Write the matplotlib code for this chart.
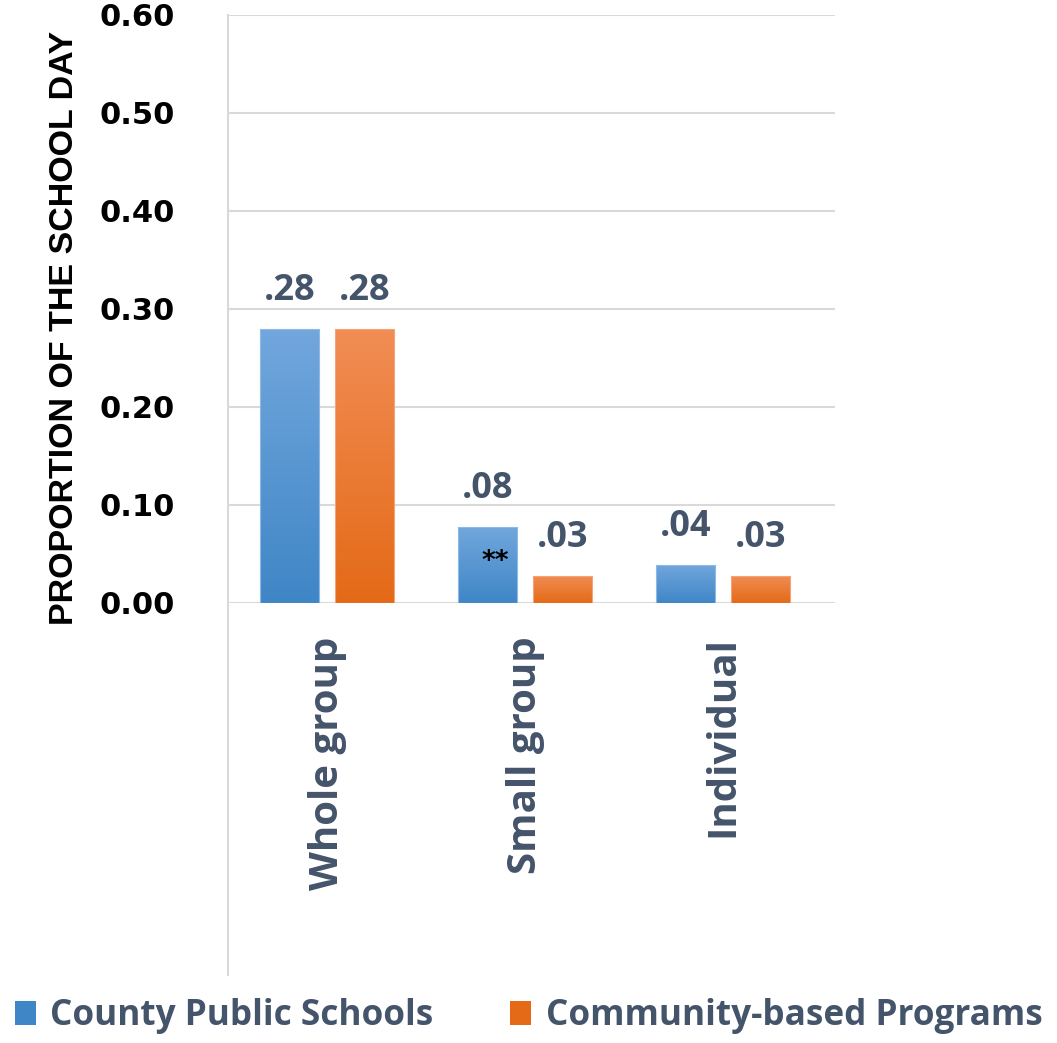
import numpy as np
import matplotlib
matplotlib.use("Agg")
import matplotlib.pyplot as plt
from matplotlib.colors import LinearSegmentedColormap
from matplotlib.patches import Patch

# Datos del gráfico
categories = ["Whole group", "Small group", "Individual"]
series_names = ["County Public Schools", "Community-based Programs"]
county_values = [0.28, 0.078, 0.039]
community_values = [0.28, 0.028, 0.028]
y_ticks = [0.0, 0.1, 0.2, 0.3, 0.4, 0.5, 0.6]

SLATE = "#44546A"
GRID = "#D9D9D9"
BLUE_TOP, BLUE_BOTTOM = "#72A7DD", "#3F86C6"
ORANGE_TOP, ORANGE_BOTTOM = "#F18D55", "#E46A17"


# Rellena una barra con un degradado vertical.
def gradient_bar(ax, bar, top_color, bottom_color, edge):
    x, y = bar.get_xy()
    w, h = bar.get_width(), bar.get_height()
    grad = np.linspace(0, 1, 256).reshape(-1, 1)
    cmap = LinearSegmentedColormap.from_list("g", [bottom_color, top_color])
    im = ax.imshow(grad, extent=[x, x + w, y, y + h], origin="lower",
                   aspect="auto", cmap=cmap, zorder=2)
    im.set_clip_path(bar)
    bar.set_facecolor("none")
    bar.set_edgecolor(edge)
    bar.set_linewidth(0.8)
    bar.set_zorder(3)


def main():
    fig = plt.figure(figsize=(10.57, 10.43), dpi=100)
    ax = fig.add_axes([228 / 1057, 1 - 603 / 1043, (835 - 228) / 1057, (603 - 15) / 1043])

    x = np.arange(len(categories))
    width = 0.3
    offset = 0.19
    bars_a = ax.bar(x - offset, county_values, width)
    bars_b = ax.bar(x + offset, community_values, width)

    for b in bars_a:
        gradient_bar(ax, b, BLUE_TOP, BLUE_BOTTOM, "#8DB9E6")
    for b in bars_b:
        gradient_bar(ax, b, ORANGE_TOP, ORANGE_BOTTOM, "#F5A476")

    # Etiquetas de valor
    for bars, vals in ((bars_a, county_values), (bars_b, community_values)):
        for b, v in zip(bars, vals):
            ax.annotate(f"{v:.2f}".lstrip("0"), (b.get_x() + b.get_width() / 2, v),
                        xytext=(0, 14), textcoords="offset points", ha="center",
                        va="bottom", fontsize=26, fontweight="bold",
                        family="Open Sans", color=SLATE)

    # Marca de significancia
    ax.text(1 - offset + 0.04, 0.042, "**", ha="center", va="center",
            fontsize=19, fontweight="bold", color="black")

    ax.set_xlim(-0.5, 2.565)
    ax.set_ylim(0, 0.6)
    ax.set_yticks(y_ticks)
    ax.set_yticklabels([f"{t:.2f}" for t in y_ticks], fontsize=22,
                       fontweight="bold", family="DejaVu Sans", color="black")
    ax.set_xticks(x)
    ax.set_xticklabels(categories, rotation=90, fontsize=29, fontweight="bold",
                       family="Open Sans", color=SLATE, va="top", ha="center")
    ax.tick_params(axis="y", length=0, pad=38)
    ax.tick_params(axis="x", length=0, pad=24)

    ax.grid(axis="y", color=GRID, linewidth=1.5, zorder=0)
    ax.set_axisbelow(True)
    for side in ("top", "right", "bottom", "left"):
        ax.spines[side].set_visible(False)
    ax.plot([0, 0], [1, -0.633], transform=ax.transAxes, color=GRID,
            linewidth=1.5, clip_on=False, zorder=1)

    fig.text(65 / 1057, 1 - 328 / 1043, "PROPORTION OF THE SCHOOL DAY",
             rotation=90, ha="center", va="center", fontsize=24.5,
             fontweight="bold", family="Liberation Sans", color="black")

    handles = [Patch(facecolor=BLUE_BOTTOM), Patch(facecolor=ORANGE_BOTTOM)]
    leg = fig.legend(handles, series_names, loc="lower center",
                     bbox_to_anchor=(0.5, -0.022), ncol=2, frameon=False,
                     handlelength=0.6, handleheight=0.7, handletextpad=0.4,
                     columnspacing=2.2,
                     prop={"family": "Open Sans", "weight": "bold", "size": 25.3})
    for t in leg.get_texts():
        t.set_color(SLATE)

    fig.savefig("out.png", dpi=100)


if __name__ == "__main__":
    main()
